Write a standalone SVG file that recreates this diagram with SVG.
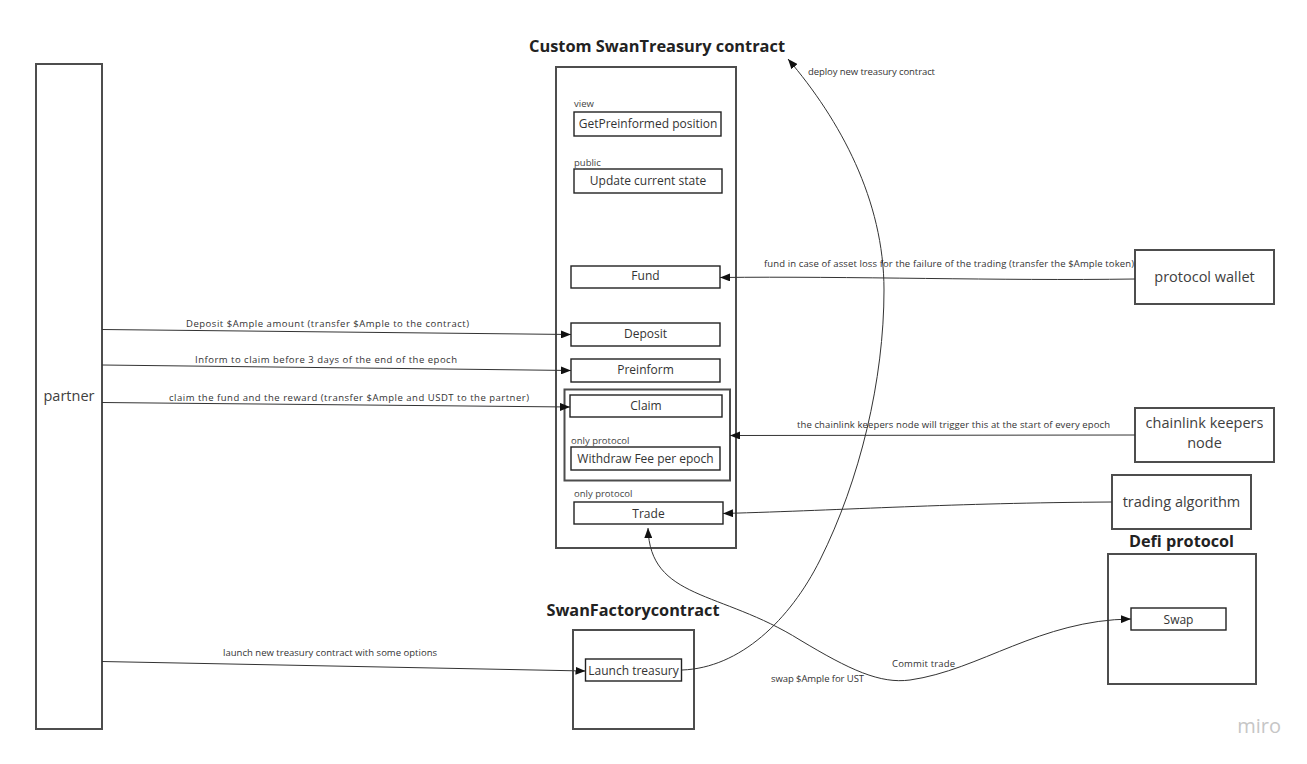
<svg xmlns="http://www.w3.org/2000/svg" width="1307" height="764" viewBox="0 0 1307 764">
<style>
text{font-family:"Open Sans","Liberation Sans",sans-serif;fill:#333}
.outer{fill:#fff;stroke:#4d4d4d;stroke-width:2}
.inner{fill:#fff;stroke:#222;stroke-width:1.4}
.node{fill:#fff;stroke:#4d4d4d;stroke-width:2}
.title{font-weight:bold;font-size:16px;fill:#222;text-anchor:middle}
.nt{font-size:14.5px;text-anchor:middle;fill:#404040}
.it{font-size:12px;text-anchor:middle}
.sm{font-size:9.5px;fill:#444}
.lbl{font-size:9.5px;text-anchor:middle;fill:#333}
.ln{fill:none;stroke:#333;stroke-width:1}
</style>
<defs>
<marker id="ah" viewBox="0 0 10 8" refX="10" refY="4" markerWidth="10" markerHeight="8" markerUnits="userSpaceOnUse" orient="auto-start-reverse">
<path d="M0,0 L10,4 L0,8 z" fill="#111"/>
</marker>
</defs>
<rect width="1307" height="764" fill="#fff"/>

<g id="partner">
<rect class="node" x="36" y="64" width="66" height="665"/>
<text class="nt" x="69" y="401">partner</text>
</g>

<g id="treasury">
<text class="title" x="657" y="52" textLength="256" lengthAdjust="spacingAndGlyphs">Custom SwanTreasury contract</text>
<rect class="outer" x="556" y="67" width="180" height="481"/>
<text class="sm" x="574" y="107">view</text>
<rect class="inner" x="574" y="112" width="147" height="24"/>
<text class="it" x="648" y="128" font-size="12.5">GetPreinformed position</text>
<text class="sm" x="574" y="166">public</text>
<rect class="inner" x="574" y="169" width="148" height="24"/>
<text class="it" x="648" y="185">Update current state</text>
<rect class="inner" x="571" y="266" width="149" height="22"/>
<text class="it" x="645.5" y="280" font-size="11">Fund</text>
<rect class="inner" x="571" y="323" width="149" height="23"/>
<text class="it" x="645.5" y="338">Deposit</text>
<rect class="inner" x="571" y="359" width="149" height="23"/>
<text class="it" x="645.5" y="374">Preinform</text>
<rect class="outer" x="564.5" y="389.5" width="165.5" height="91"/>
<rect class="inner" x="570" y="395" width="152" height="22"/>
<text class="it" x="646" y="410">Claim</text>
<text class="sm" x="571" y="444">only protocol</text>
<rect class="inner" x="571" y="447" width="149" height="23"/>
<text class="it" x="645.5" y="463" font-size="12.5">Withdraw Fee per epoch</text>
<text class="sm" x="574" y="497">only protocol</text>
<rect class="inner" x="574" y="502" width="149" height="22"/>
<text class="it" x="648.5" y="518">Trade</text>
</g>

<g id="protocol-wallet">
<rect class="node" x="1135" y="250" width="139" height="54"/>
<text class="nt" x="1204.5" y="282">protocol wallet</text>
</g>

<g id="chainlink">
<rect class="node" x="1135" y="408" width="139" height="54"/>
<text class="nt" x="1204.5" y="428">chainlink keepers</text>
<text class="nt" x="1204.5" y="448">node</text>
</g>

<g id="trading">
<rect class="node" x="1112" y="475" width="139" height="54"/>
<text class="nt" x="1181.5" y="507">trading algorithm</text>
</g>

<g id="factory">
<text class="title" x="633" y="616" textLength="173" lengthAdjust="spacingAndGlyphs">SwanFactorycontract</text>
<rect class="outer" x="573" y="630" width="121" height="99"/>
<rect class="inner" x="585.5" y="659" width="96" height="22"/>
<text class="it" x="633.5" y="675">Launch treasury</text>
</g>

<g id="defi">
<text class="title" x="1181.5" y="547" textLength="105" lengthAdjust="spacingAndGlyphs">Defi protocol</text>
<rect class="outer" x="1108" y="554" width="148" height="130"/>
<rect class="inner" x="1131" y="608" width="95" height="22"/>
<text class="it" x="1178.5" y="624" font-size="11.5">Swap</text>
</g>

<g id="connectors">
<line class="ln" x1="102" y1="329.5" x2="571" y2="334.5" marker-end="url(#ah)"/>
<text class="lbl" x="327.5" y="327" font-size="10.5" textLength="283">Deposit $Ample amount (transfer $Ample to the contract)</text>
<line class="ln" x1="102" y1="365" x2="571" y2="370.5" marker-end="url(#ah)"/>
<text class="lbl" x="326" y="363" font-size="10.5" textLength="262">Inform to claim before 3 days of the end of the epoch</text>
<line class="ln" x1="102" y1="402.5" x2="570" y2="407" marker-end="url(#ah)"/>
<text class="lbl" x="349" y="401" font-size="10.5" textLength="360">claim the fund and the reward (transfer $Ample and USDT to the partner)</text>
<line class="ln" x1="102" y1="661.5" x2="585.5" y2="671" marker-end="url(#ah)"/>
<text class="lbl" x="330" y="656" textLength="214">launch new treasury contract with some options</text>
<path class="ln" d="M1135,279 C1000,281 850,276 720,277.5" marker-end="url(#ah)"/>
<text class="lbl" x="949" y="267" textLength="370">fund in case of asset loss for the failure of the trading (transfer the $Ample token)</text>
<line class="ln" x1="1135" y1="435" x2="730" y2="435.5" marker-end="url(#ah)"/>
<text class="lbl" x="953.5" y="428" textLength="313">the chainlink keepers node will trigger this at the start of every epoch</text>
<path class="ln" d="M1112,502 C950,503 850,510 723,513.5" marker-end="url(#ah)"/>
<path class="ln" d="M682,670 C740,668 790,620 820,560 C860,480 884,380 884,290 C884,200 840,120 788,59" marker-end="url(#ah)"/>
<text class="lbl" x="871.5" y="75" textLength="127">deploy new treasury contract</text>
<path class="ln" d="M648,528 C650,600 720,590 800,640 C850,670 880,684 910,680 C980,670 1040,620 1131,619" marker-start="url(#ah)" marker-end="url(#ah)"/>
<text class="lbl" x="923.5" y="667" textLength="63">Commit trade</text>
<text class="lbl" x="817.5" y="682" textLength="93">swap $Ample for UST</text>
</g>

<text x="1281" y="733" font-size="20" text-anchor="end" style="fill:#c6c6c6">miro</text>
</svg>
